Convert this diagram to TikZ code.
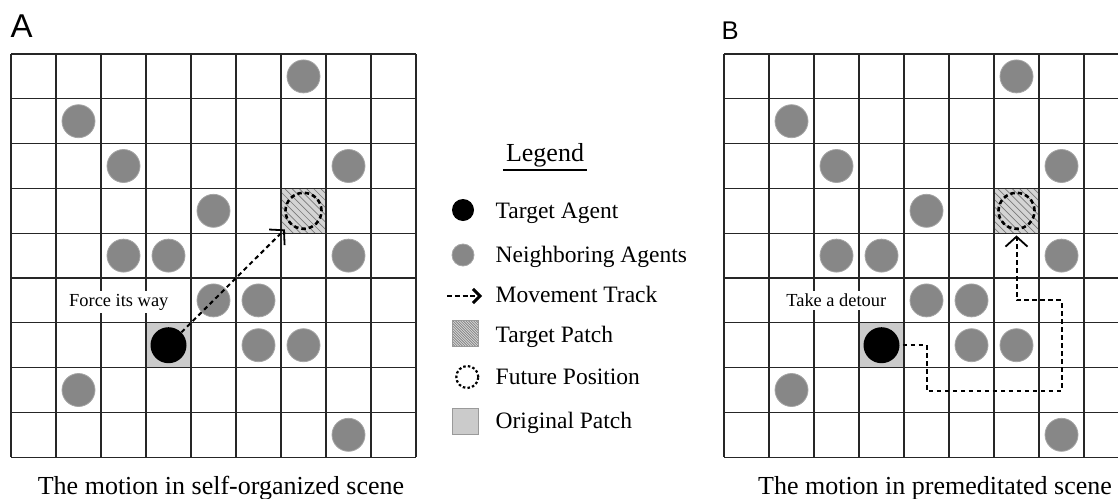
\documentclass[tikz,border=0pt]{standalone}
\usepackage{fontspec}
\setmainfont{Liberation Serif}
\newfontfamily\panelfont{Liberation Sans}
\usetikzlibrary{arrows.meta,calc}
\definecolor{agentgray}{HTML}{878787}
\definecolor{agentedge}{HTML}{A5A5A5}
\definecolor{origgray}{HTML}{CBCBCB}
\definecolor{tpgray}{HTML}{D4D4D4}
\definecolor{hatchgray}{HTML}{7A7A7A}
\definecolor{gridcol}{HTML}{262626}
\definecolor{legedge}{HTML}{9A9A9A}

\tikzset{
 gridline/.style={draw=gridcol, line width=1.1pt},
 neighbor/.style={circle, fill=agentgray, draw=agentedge, line width=0.8pt, minimum size=33pt, inner sep=0pt},
 targetagent/.style={circle, fill=black, minimum size=36pt, inner sep=0pt},
 cellbox/.style={rectangle, minimum width=45pt, minimum height=44.8pt, inner sep=0pt},
 origpatch/.style={cellbox, fill=origgray},
 tpatch/.style={cellbox, fill=tpgray, path picture={
   \foreach \k in {-1.2,-1.04,...,1.2}
     \draw[hatchgray, line width=0.7pt] ($(path picture bounding box.north west)+(\k*45pt,0pt)$) -- ++(52pt,-52pt);}},
 futurepos/.style={circle, draw=black, line width=2.6pt, dash pattern=on 4.5pt off 3pt, minimum size=36pt, inner sep=0pt},
 track/.style={line width=2pt, dash pattern=on 4.5pt off 3.5pt, -{Straight Barb[length=10pt, width=22pt, line width=1.8pt]}},
 note/.style={fill=white, inner xsep=2pt, inner ysep=3pt, font=\fontsize{18.4}{20}\selectfont, anchor=base},
 caption/.style={font=\fontsize{26}{30}\selectfont, anchor=base, inner sep=0pt},
 legendtext/.style={font=\fontsize{23.5}{26}\selectfont, anchor=base west, inner sep=0pt},
 legtarget/.style={circle, fill=black, minimum size=22pt, inner sep=0pt},
 legneighbor/.style={circle, fill=agentgray, draw=agentedge, line width=0.8pt, minimum size=22pt, inner sep=0pt},
 legtpatch/.style={rectangle, minimum size=26pt, inner sep=0pt, fill=tpgray, draw=legedge, line width=0.8pt, path picture={
   \foreach \k in {-1.2,-1.1,...,1.2}
     \draw[hatchgray, line width=0.6pt] ($(path picture bounding box.north west)+(\k*26pt,0pt)$) -- ++(30pt,-30pt);}},
 legfuture/.style={circle, draw=black, line width=2.2pt, dash pattern=on 2.5pt off 2.2pt, minimum size=22pt, inner sep=0pt},
 legorig/.style={rectangle, minimum size=26pt, inner sep=0pt, fill=origgray, draw=legedge, line width=0.8pt},
 legtrack/.style={line width=2.8pt, dash pattern=on 5pt off 2.8pt, -{Straight Barb[length=7pt, width=14pt, line width=3pt]}},
}

\newcommand\drawpanel[2]{%
\begin{scope}[shift={(#2,54)}, x=45pt, y=-44.8pt]
 \node[origpatch] (#1-op) at (3.5,6.5) {};
 \node[tpatch] (#1-tp) at (6.5,3.5) {};
 \foreach \i in {0,...,9} {\draw[gridline] (\i,0) -- (\i,9); \draw[gridline] (0,\i) -- (9,\i);}
 \foreach \c/\r [count=\nn] in {6/0,1/1,2/2,7/2,4/3,2/4,3/4,7/4,4/5,5/5,5/6,6/6,1/7,7/8}
   \node[neighbor] (#1-n\nn) at (\c+0.5,\r+0.5) {};
 \node[targetagent] (#1-t) at (3.5,6.5) {};
 \node[futurepos] (#1-fp) at (6.5,3.5) {};
\end{scope}}

\begin{document}
\begin{tikzpicture}[x=1pt,y=-1pt]
\useasboundingbox (0,0) rectangle (1118,498);
\clip (0,0) rectangle (1118,498);

% panel labels
\node[font=\panelfont\fontsize{33}{36}\selectfont, anchor=base west, inner sep=0pt] (labA) at (10.5,37.3) {A};
\node[font=\panelfont\fontsize{25.6}{28}\selectfont, anchor=base west, inner sep=0pt] (labB) at (721.5,39) {B};

% panels
\drawpanel{A}{11}
\drawpanel{B}{724}

% panel A track
\draw[track] (A-t) -- ([shift={(4pt,4pt)}]A-tp.south west);
\node[note] (A-note) at (118.8,306) {Force its way};

% panel B track
\coordinate (B-s) at ([xshift=3pt]B-t.east);
\coordinate (B-w1) at (926.5,391);
\coordinate (B-w2) at (1061.5,391);
\coordinate (B-w3) at (1061.5,300.4);
\coordinate (B-w4) at (1016.5,300.4);
\draw[track] (B-s) -| (B-w1) -- (B-w2) -- (B-w3) -- (B-w4) -- ([yshift=-2pt]B-tp.south);
\node[note] (B-note) at (836.3,306.7) {Take a detour};

% captions
\node[caption] (capA) at (221,494) {The motion in self-organized scene};
\node[caption] (capB) at (935,494) {The motion in premeditated scene};

% legend
\node[font=\fontsize{26}{30}\selectfont, anchor=base, inner sep=0pt] (leg) at (545,161.7) {Legend};
\draw[line width=1.4pt] ([xshift=-3pt,yshift=-8.3pt]leg.base west) -- ([xshift=3pt,yshift=-8.3pt]leg.base east);

\node[legtarget] (lg-ta) at (463,210) {};
\node[legneighbor] (lg-na) at (463,255) {};
\coordinate (lg-m0) at (447,296);
\coordinate (lg-m1) at (482,296);
\draw[legtrack] (lg-m0) -- (lg-m1);
\node[legtpatch] (lg-tp) at (465.7,333.7) {};
\node[legfuture] (lg-fp) at (467.3,377) {};
\node[legorig] (lg-op) at (465.7,421.5) {};

\node[legendtext] (lt1) at (495.5,218) {Target Agent};
\node[legendtext] (lt2) at (495.5,262) {Neighboring Agents};
\node[legendtext] (lt3) at (495.5,302.3) {Movement Track};
\node[legendtext] (lt4) at (495.5,342.3) {Target Patch};
\node[legendtext] (lt5) at (495.5,384) {Future Position};
\node[legendtext] (lt6) at (495.5,428.3) {Original Patch};
\end{tikzpicture}
\end{document}
